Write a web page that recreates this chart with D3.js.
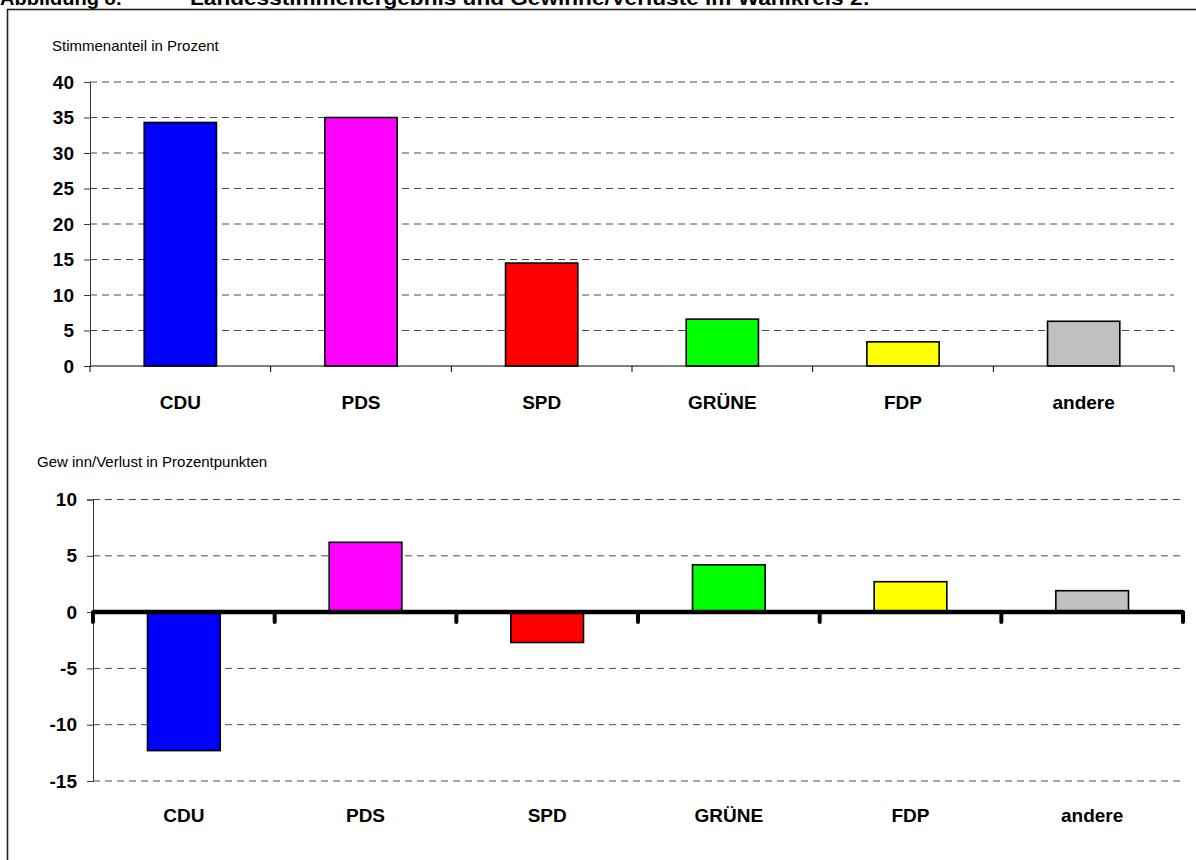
<!DOCTYPE html>
<html>
<head>
<meta charset="utf-8">
<script src="https://cdn.jsdelivr.net/npm/d3@7/dist/d3.min.js"></script>
<style>
  body { margin: 0; background: #fff; }
  svg { display: block; font-family: "Liberation Sans", Arial, sans-serif; }
</style>
</head>
<body>
<svg id="chart" width="1196" height="860"></svg>
<script>
const categories = ["CDU", "PDS", "SPD", "GRÜNE", "FDP", "andere"];
const colors = ["#0000ff", "#ff00ff", "#ff0000", "#00ff00", "#ffff00", "#c0c0c0"];
const shareValues = [34.3, 35.0, 14.5, 6.6, 3.4, 6.3];
const changeValues = [-12.3, 6.2, -2.7, 4.2, 2.7, 1.9];
const shareTicks = [0, 5, 10, 15, 20, 25, 30, 35, 40];
const changeTicks = [-15, -10, -5, 0, 5, 10];
const titleLeft = "Abbildung 8:";
const titleRight = "Landesstimmenergebnis und Gewinne/Verluste im Wahlkreis 2:";
const shareTitle = "Stimmenanteil in Prozent";
const changeTitle = "Gew inn/Verlust in Prozentpunkten";

const svg = d3.select("#chart");

// title at the very top (clipped in the reference)
svg.append("text").attr("x", 0).attr("y", 5).attr("font-size", 20).attr("font-weight", "bold")
  .text(titleLeft);
svg.append("text").attr("x", 190).attr("y", 5).attr("font-size", 20).attr("font-weight", "bold")
  .attr("textLength", 680).attr("lengthAdjust", "spacingAndGlyphs")
  .text(titleRight);

// frame
svg.append("rect").attr("x", 7.5).attr("y", 9.5).attr("width", 1300).attr("height", 1000)
  .attr("fill", "none").attr("stroke", "#222").attr("stroke-width", 1.6);

function drawPanel(cfg) {
  const x = d3.scaleBand().domain(categories).range([cfg.x0, cfg.x1]).paddingInner(0.6).paddingOuter(0.3);
  const xb = d3.scaleBand().domain(categories).range([cfg.x0, cfg.x1]);
  const y = d3.scaleLinear().domain(cfg.domain).range([cfg.yBottom, cfg.yTop]);
  const g = svg.append("g");

  // gridlines
  g.append("g").selectAll("line").data(cfg.ticks.filter(t => t !== 0))
    .join("line")
    .attr("x1", cfg.x0).attr("x2", cfg.x1)
    .attr("y1", d => y(d)).attr("y2", d => y(d))
    .attr("stroke", "#4a4a4a").attr("stroke-width", 1)
    .attr("stroke-dasharray", "7,5");

  // y axis
  const yAxis = d3.axisLeft(y).tickValues(cfg.ticks).tickSize(6).tickPadding(10).tickFormat(d => String(d));
  const ya = g.append("g").attr("transform", `translate(${cfg.x0},0)`).call(yAxis);
  ya.select(".domain").attr("stroke", "#333").attr("stroke-width", 1);
  ya.selectAll(".tick line").attr("stroke", "#333");
  ya.selectAll(".tick text").attr("font-size", 19).attr("font-weight", "bold")
    .attr("font-family", "Liberation Sans, Arial, sans-serif").attr("fill", "#000");

  // bars
  g.append("g").selectAll("rect").data(cfg.values).join("rect")
    .attr("x", (d, i) => x(categories[i]))
    .attr("width", x.bandwidth())
    .attr("y", d => y(Math.max(0, d)))
    .attr("height", d => Math.abs(y(d) - y(0)))
    .attr("fill", (d, i) => colors[i])
    .attr("stroke", "#000").attr("stroke-width", 1.6);

  // x axis
  const xaG = g.append("g");
  xaG.append("line").attr("x1", cfg.x0).attr("x2", cfg.x1)
    .attr("y1", y(0)).attr("y2", y(0))
    .attr("stroke", "#000").attr("stroke-width", cfg.thickZero ? 4.5 : 1.2);
  const boundaries = categories.map(c => xb(c)).concat([cfg.x1]);
  xaG.selectAll("line.tk").data(boundaries).join("line").attr("class", "tk")
    .attr("x1", d => d).attr("x2", d => d)
    .attr("y1", y(0)).attr("y2", y(0) + (cfg.thickZero ? 10 : 6))
    .attr("stroke", "#000").attr("stroke-width", cfg.thickZero ? 4 : 1)
    .attr("stroke-linecap", cfg.thickZero ? "round" : "butt");

  // category labels
  g.append("g").selectAll("text").data(categories).join("text")
    .attr("x", d => xb(d) + xb.bandwidth() / 2)
    .attr("y", cfg.labelY)
    .attr("text-anchor", "middle")
    .attr("font-size", 19).attr("font-weight", "bold")
    .text(d => d);

  // axis title
  g.append("text").attr("x", cfg.titleX).attr("y", cfg.titleY)
    .attr("font-size", 15).text(cfg.title);
}

drawPanel({
  x0: 90, x1: 1174, yTop: 82, yBottom: 366,
  domain: [0, 40], ticks: shareTicks, values: shareValues, thickZero: false,
  labelY: 409, title: shareTitle, titleX: 52, titleY: 51
});

drawPanel({
  x0: 93, x1: 1183, yTop: 499.5, yBottom: 781,
  domain: [-15, 10], ticks: changeTicks, values: changeValues, thickZero: true,
  labelY: 822, title: changeTitle, titleX: 37, titleY: 467
});
</script>
</body>
</html>
